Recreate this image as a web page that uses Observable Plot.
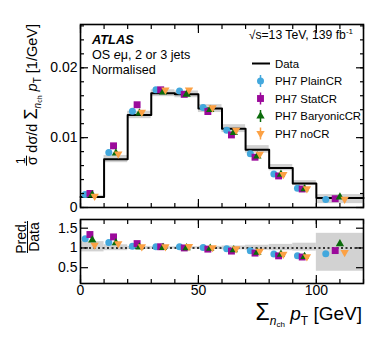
<!DOCTYPE html>
<html><head><meta charset="utf-8">
<script src="https://cdn.jsdelivr.net/npm/d3@7"></script>
<script src="https://cdn.jsdelivr.net/npm/@observablehq/plot@0.6"></script>
<style>
html,body{margin:0;padding:0;background:#fff;}
#wrap{position:relative;width:382px;height:346px;font-family:"Liberation Sans",Arial,sans-serif;}
#wrap > svg{position:absolute;left:0;overflow:visible;}
</style></head><body><div id="wrap"></div>
<script>
// ---- data ----
const binEdges   = [0,10,20,30,40,50,60,70,80,90,100,120];
const dataValues = [0.0015,0.0069,0.01325,0.01636,0.0162,0.01416,0.01129,0.00828,0.00565,0.00344,0.00135];
const bandLow    = [0.90,0.93,0.96,0.97,0.97,0.96,0.95,0.94,0.93,0.92,0.41];
const bandHigh   = [1.16,1.08,1.04,1.03,1.03,1.04,1.05,1.07,1.09,1.12,1.37];
const plainCR    = [0.00185,0.00787,0.01378,0.01685,0.01669,0.01430,0.01106,0.00770,0.00480,0.00275,0.00115];
const statCR     = [0.00201,0.00883,0.01471,0.01685,0.01620,0.01374,0.01039,0.00720,0.00452,0.00265,0.00126];
const baryonicCR = [0.00180,0.00780,0.01352,0.01652,0.01620,0.01402,0.01073,0.00737,0.00475,0.00268,0.00149];
const noCR       = [0.00161,0.00766,0.01365,0.01685,0.01685,0.01430,0.01106,0.00762,0.00475,0.00268,0.00120];
const seriesNames = ["PH7 PlainCR","PH7 StatCR","PH7 BaryonicCR","PH7 noCR"];
const topYTicks = [0,0.01,0.02];
const topYMinor = d3.range(0,0.0261,0.002);
const xTicks = [0,50,100];
const xMinor = d3.range(0,121,10);
const ratioTicks = [0.5,1,1.5];

// ---- styles ----
const colors = ["#43a8dd","#9b0a9b","#0b6b0b","#fca144"];
const symbols = ["circle","square","triangle","triangle"];
const rotates = [0,0,0,180];
const radii = [3.5,3.9,3.1,3.1];
const fracs = [0.2,0.4,0.5,0.6];
const seriesValues = [plainCR,statCR,baryonicCR,noCR];

const bins = dataValues.map((v,j)=>({x1:binEdges[j],x2:binEdges[j+1],v,lo:bandLow[j],hi:bandHigh[j]}));
const stepPts = binEdges.map((e,k)=>({x:e,y:dataValues[Math.min(k,dataValues.length-1)]}));
const pts = seriesValues.map((vals,i)=>vals.map((p,j)=>({
  x: binEdges[j] + fracs[i]*(binEdges[j+1]-binEdges[j]), y:p, ratio:p/dataValues[j]})));

function inTicks(xMaj,xMin,yMaj,yMin){
  const o = {fill:"none",label:null,strokeWidth:1.2};
  const m = [];
  for (const a of ["bottom","top"]) {
    m.push(Plot.axisX({...o,anchor:a,ticks:xMaj,tickSize:-8}));
    m.push(Plot.axisX({...o,anchor:a,ticks:xMin,tickSize:-4}));
  }
  for (const a of ["left","right"]) {
    m.push(Plot.axisY({...o,anchor:a,ticks:yMaj,tickSize:-8}));
    if (yMin) m.push(Plot.axisY({...o,anchor:a,ticks:yMin,tickSize:-4}));
  }
  return m;
}
function dotMarks(yKey){
  return pts.map((arr,i)=>Plot.dot(arr,{x:"x",y:yKey,symbol:symbols[i],rotate:rotates[i],r:radii[i],fill:colors[i],stroke:"none"}));
}
const plotStyle = {fontFamily:"Liberation Sans, Arial, sans-serif",fontSize:"14px",color:"black",background:"transparent",overflow:"visible"};

const topPlot = Plot.plot({
  width:382,height:215,marginTop:24,marginBottom:8,marginLeft:80,marginRight:19,
  x:{domain:[0,120]}, y:{domain:[0,0.0262]}, style:plotStyle,
  marks:[
    Plot.rect(bins,{x1:"x1",x2:"x2",y1:d=>d.v*d.lo,y2:d=>d.v*d.hi,fill:"#d2d2d2"}),
    Plot.line(stepPts,{x:"x",y:"y",curve:"step-after",stroke:"black",strokeWidth:2}),
    ...dotMarks("y"),
    Plot.axisY({anchor:"left",ticks:topYTicks,tickSize:0,tickPadding:3,label:null,tickFormat:d=>String(d)}),
    ...inTicks(xTicks,xMinor,topYTicks,topYMinor),
    Plot.frame({stroke:"black",strokeWidth:1.6})
  ]
});
topPlot.style.top = "0px";

const botPlot = Plot.plot({
  width:382,height:135,marginTop:8,marginBottom:63,marginLeft:80,marginRight:19,
  x:{domain:[0,120]}, y:{domain:[0.1,1.72]}, style:plotStyle,
  marks:[
    Plot.rect(bins,{x1:"x1",x2:"x2",y1:"lo",y2:"hi",fill:"#d2d2d2"}),
    Plot.ruleY([1],{stroke:"black",strokeWidth:1.4,strokeDasharray:"2,2.5"}),
    ...dotMarks("ratio"),
    Plot.axisY({anchor:"left",ticks:ratioTicks,tickSize:0,tickPadding:3,label:null,tickFormat:d=>String(d)}),
    Plot.axisX({anchor:"bottom",ticks:xTicks,tickSize:0,tickPadding:2,label:null,tickFormat:d=>String(d)}),
    ...inTicks(xTicks,xMinor,ratioTicks,null),
    Plot.frame({stroke:"black",strokeWidth:1.6})
  ]
});
botPlot.style.top = "211px";

const wrap = document.getElementById("wrap");
wrap.appendChild(topPlot);
wrap.appendChild(botPlot);

// ---- overlay text ----
const ov = d3.select(wrap).append("svg").attr("width",382).attr("height",346).style("top","0px")
  .attr("font-family","Liberation Sans, Arial, sans-serif").attr("fill","black");

ov.append("text").attr("x",92).attr("y",44).attr("font-size",12.8).attr("font-weight","bold").attr("font-style","italic").text("ATLAS");
const os = ov.append("text").attr("x",92).attr("y",59).attr("font-size",12.6);
os.append("tspan").text("OS ");
os.append("tspan").attr("font-style","italic").text("e");
os.append("tspan").text("μ, 2 or 3 jets");
ov.append("text").attr("x",92).attr("y",74).attr("font-size",12.6).text("Normalised");

const en = ov.append("text").attr("x",353).attr("y",39).attr("font-size",12.2).attr("text-anchor","end");
en.append("tspan").text("√s=13 TeV, 139 fb");
en.append("tspan").attr("font-size",8).attr("dy",-5).text("-1");

// legend
const legY = [81,98.5,116,133.5];
ov.append("line").attr("x1",252).attr("x2",270).attr("y1",63.5).attr("y2",63.5).attr("stroke","black").attr("stroke-width",2);
ov.append("text").attr("x",275).attr("y",67.5).attr("font-size",11.4).text("Data");
seriesNames.forEach((n,i)=>{
  const cy = legY[i];
  ov.append("line").attr("x1",260.5).attr("x2",260.5).attr("y1",cy-6).attr("y2",cy+6).attr("stroke",colors[i]).attr("stroke-width",1.5);
  const sym = d3.symbol(i===0?d3.symbolCircle:i===1?d3.symbolSquare:d3.symbolTriangle, Math.PI*radii[i]*radii[i]);
  ov.append("path").attr("d",sym()).attr("fill",colors[i])
    .attr("transform",`translate(260.5,${cy}) rotate(${rotates[i]})`);
  ov.append("text").attr("x",275).attr("y",cy+4).attr("font-size",11.4).text(n);
});

// top y label
const g = ov.append("g").attr("transform","translate(37,24) rotate(-90)");
const t = g.append("text").attr("text-anchor","end").attr("font-size",14.5);
t.append("tspan").text("dσ/d ");
t.append("tspan").attr("font-size",18).text("Σ");
t.append("tspan").attr("font-style","italic").attr("font-size",10).attr("dy",3.5).text("n");
t.append("tspan").attr("font-size",7).attr("dy",1.5).text("ch");
t.append("tspan").attr("dy",-5).text(" ");
t.append("tspan").attr("font-style","italic").text("p");
t.append("tspan").attr("font-size",10).attr("dy",3.5).text("T");
t.append("tspan").attr("dy",-3.5).text(" [1/GeV]");
const len = t.node().getComputedTextLength();
const fx = -len - 8;
g.append("text").attr("x",fx).attr("y",-12.5).attr("text-anchor","middle").attr("font-size",12.5).text("1");
g.append("line").attr("x1",fx-5).attr("x2",fx+5).attr("y1",-10.5).attr("y2",-10.5).attr("stroke","black").attr("stroke-width",1);
g.append("text").attr("x",fx).attr("y",0).attr("text-anchor","middle").attr("font-size",14).text("σ");

// ratio y label
const g2 = ov.append("g").attr("transform","translate(27.5,237) rotate(-90)");
g2.append("text").attr("x",0).attr("y",-1.5).attr("text-anchor","middle").attr("font-size",14).text("Pred.");
g2.append("line").attr("x1",-16).attr("x2",16).attr("y1",0).attr("y2",0).attr("stroke","black").attr("stroke-width",1);
g2.append("text").attr("x",0).attr("y",11).attr("text-anchor","middle").attr("font-size",14).text("Data");

// x label
const xl = ov.append("text").attr("x",362).attr("y",320).attr("text-anchor","end").attr("font-size",19);
xl.append("tspan").attr("font-size",23).text("Σ");
xl.append("tspan").attr("font-style","italic").attr("font-size",12).attr("dy",5).text("n");
xl.append("tspan").attr("font-size",8).attr("dy",2).text("ch");
xl.append("tspan").attr("dy",-7).text(" ");
xl.append("tspan").attr("font-style","italic").text("p");
xl.append("tspan").attr("font-size",12).attr("dy",5).text("T");
xl.append("tspan").attr("dy",-5).text(" [GeV]");
</script></body></html>
